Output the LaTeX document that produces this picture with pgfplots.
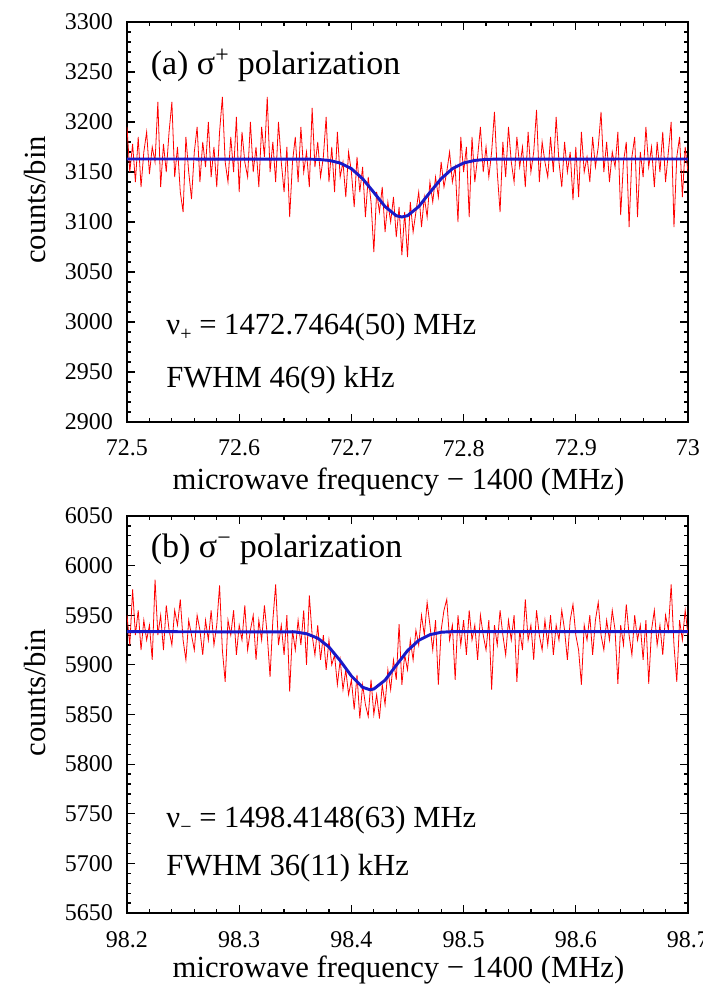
\documentclass[border=0pt]{standalone}
\usepackage{fontspec}
\setmainfont{Liberation Serif}
\usepackage{pgfplots}
\pgfplotsset{compat=1.18}
\definecolor{fitblue}{RGB}{25,25,200}
\definecolor{datred}{RGB}{255,0,0}
\pgfplotsset{
  panel/.style={
    scale only axis,
    width=420.75pt,
    axis line style={line width=1.1pt},
    tick align=inside,
    major tick length=6pt,
    minor tick length=3pt,
    every tick/.style={black, line width=0.9pt},
    minor x tick num=4,
    minor y tick num=4,
    /pgf/number format/assume math mode=true,
    /pgf/number format/1000 sep={},
    tick label style={font=\fontsize{18}{20}\selectfont},
    xticklabel style={yshift=-10pt},
    yticklabel style={xshift=-7pt},
    xlabel style={font=\fontsize{23}{26}\selectfont, anchor=center},
    ylabel style={font=\fontsize{23}{26}\selectfont, anchor=center, at={(axis description cs:-0.164,0.555)}},
    clip mode=individual,
    anchor=south west,
  }
}
\begin{document}
\begin{tikzpicture}
\useasboundingbox (0,0) rectangle (527.25pt,742.5pt);
% ---------------- top panel ----------------
\begin{axis}[panel,
  at={(95.25pt,426pt)}, height=300pt,
  xmin=72.5, xmax=73, ymin=2900, ymax=3300,
  xtick={72.5,72.6,72.7,72.8,72.9,73},
  xticklabels={72.5,72.6,72.7,72.8,72.9,73},
  ytick={2900,2950,3000,3050,3100,3150,3200,3250,3300},
  xlabel={microwave frequency − 1400 (MHz)},
  xlabel style={at={(axis description cs:0.484,-0.15)}},
  ylabel={counts/bin},
]
\addplot[datred, line width=0.6pt, no markers] table[row sep=\\, x expr=72.5+\coordindex*0.0025, y=y] {
y\\
3195\\3150\\3178\\3140\\3185\\3135\\3170\\3190\\3148\\3175\\
3160\\3220\\3135\\3178\\3150\\3190\\3220\\3145\\3175\\3130\\
3110\\3185\\3150\\3123\\3170\\3195\\3140\\3180\\3155\\3200\\
3145\\3175\\3135\\3190\\3225\\3160\\3140\\3185\\3150\\3205\\
3130\\3190\\3160\\3145\\3200\\3150\\3175\\3135\\3195\\3165\\
3225\\3150\\3180\\3140\\3200\\3160\\3130\\3175\\3105\\3160\\
3185\\3140\\3195\\3150\\3170\\3135\\3214\\3155\\3180\\3145\\
3165\\3205\\3140\\3175\\3130\\3190\\3145\\3160\\3125\\3170\\
3150\\3115\\3165\\3130\\3155\\3105\\3145\\3120\\3070\\3130\\
3110\\3135\\3090\\3120\\3100\\3125\\3085\\3115\\3067\\3110\\
3065\\3120\\3090\\3110\\3130\\3095\\3125\\3105\\3140\\3120\\
3145\\3125\\3160\\3135\\3150\\3170\\3140\\3155\\3100\\3185\\
3150\\3175\\3105\\3185\\3140\\3165\\3195\\3150\\3175\\3145\\
3170\\3210\\3150\\3110\\3180\\3145\\3195\\3160\\3140\\3185\\
3155\\3175\\3135\\3190\\3150\\3170\\3212\\3140\\3180\\3160\\
3145\\3185\\3150\\3205\\3160\\3135\\3180\\3150\\3170\\3122\\
3175\\3125\\3190\\3150\\3165\\3140\\3185\\3155\\3175\\3210\\
3150\\3180\\3140\\3170\\3155\\3190\\3107\\3160\\3180\\3095\\
3165\\3185\\3105\\3170\\3145\\3195\\3155\\3175\\3135\\3180\\
3150\\3190\\3140\\3170\\3200\\3095\\3165\\3185\\3125\\3175\\3150\\
};
\addplot[fitblue, line width=2.2pt, no markers] coordinates {
(72.5,3163) (72.66,3162.9) (72.67,3162.6) (72.68,3161.6) (72.69,3159.0)
(72.70,3153.3) (72.71,3143.3) (72.72,3129.6) (72.73,3115.4) (72.74,3106.3)
(72.745,3105) (72.75,3106.3) (72.76,3115.4) (72.77,3129.6) (72.78,3143.3)
(72.79,3153.3) (72.80,3159.0) (72.81,3161.6) (72.82,3162.6) (72.83,3162.9) (73,3163)
};
\node[anchor=west, font=\fontsize{25.5}{28}\selectfont] at (axis cs:72.517,3257) {(a) σ\textsuperscript{+} polarization};
\node[anchor=west, font=\fontsize{23}{26}\selectfont] at (axis cs:72.531,2995) {ν\raisebox{-0.45ex}{\fontsize{15}{16}\selectfont +} = 1472.7464(50) MHz};
\node[anchor=west, font=\fontsize{23}{26}\selectfont] at (axis cs:72.531,2942) {FWHM 46(9) kHz};
\end{axis}
% ---------------- bottom panel ----------------
\begin{axis}[panel,
  at={(95.25pt,57.75pt)}, height=297.75pt,
  xmin=98.2, xmax=98.7, ymin=5650, ymax=6050,
  xtick={98.2,98.3,98.4,98.5,98.6,98.7},
  xticklabels={98.2,98.3,98.4,98.5,98.6,98.7},
  ytick={5650,5700,5750,5800,5850,5900,5950,6000,6050},
  xlabel={microwave frequency − 1400 (MHz)},
  xlabel style={at={(axis description cs:0.484,-0.1436)}},
  ylabel={counts/bin},
]
\addplot[datred, line width=0.6pt, no markers] table[row sep=\\, x expr=98.2+\coordindex*0.0025, y=y] {
y\\
5950\\5920\\5976\\5930\\5955\\5915\\5945\\5925\\5940\\5905\\
5986\\5930\\5950\\5915\\5960\\5935\\5920\\5955\\5940\\5966\\
5925\\5905\\5945\\5930\\5915\\5950\\5935\\5910\\5945\\5925\\
5955\\5920\\5940\\5980\\5915\\5883\\5945\\5930\\5955\\5910\\
5940\\5925\\5960\\5915\\5935\\5950\\5905\\5945\\5925\\5960\\
5930\\5888\\5945\\5981\\5920\\5940\\5910\\5950\\5873\\5935\\
5915\\5945\\5920\\5955\\5900\\5970\\5930\\5910\\5940\\5905\\
5930\\5895\\5925\\5900\\5910\\5880\\5905\\5875\\5895\\5870\\
5885\\5855\\5890\\5846\\5880\\5860\\5848\\5885\\5850\\5870\\
5846\\5880\\5860\\5895\\5875\\5905\\5885\\5941\\5880\\5910\\
5895\\5925\\5905\\5935\\5920\\5950\\5930\\5963\\5940\\5915\\
5945\\5880\\5935\\5955\\5966\\5925\\5940\\5885\\5950\\5920\\
5945\\5910\\5955\\5925\\5940\\5905\\5950\\5930\\5915\\5945\\
5875\\5940\\5920\\5955\\5930\\5910\\5945\\5925\\5950\\5883\\
5935\\5915\\5966\\5925\\5940\\5905\\5955\\5930\\5915\\5945\\
5920\\5950\\5910\\5940\\5925\\5955\\5935\\5905\\5945\\5961\\
5930\\5915\\5880\\5940\\5925\\5950\\5910\\5945\\5963\\5930\\
5915\\5945\\5925\\5955\\5935\\5881\\5940\\5920\\5961\\5930\\
5910\\5950\\5925\\5940\\5905\\5945\\5881\\5935\\5955\\5920\\
5940\\5910\\5950\\5935\\5981\\5920\\5883\\5945\\5925\\5955\\5930\\
};
\addplot[fitblue, line width=2.2pt, no markers] coordinates {
(98.2,5933.5) (98.35,5933.2) (98.36,5931.4) (98.37,5926.9) (98.38,5918.0)
(98.39,5904.3) (98.40,5888.8) (98.41,5877.4) (98.4165,5875) (98.42,5875.7)
(98.43,5884.6) (98.44,5899.6) (98.45,5914.3) (98.46,5924.7) (98.47,5930.4)
(98.48,5932.9) (98.49,5933.5) (98.7,5933.5)
};
\node[anchor=west, font=\fontsize{25.5}{28}\selectfont] at (axis cs:98.217,6016) {(b) σ\textsuperscript{−} polarization};
\node[anchor=west, font=\fontsize{23}{26}\selectfont] at (axis cs:98.231,5744) {ν\raisebox{-0.45ex}{\fontsize{15}{16}\selectfont −} = 1498.4148(63) MHz};
\node[anchor=west, font=\fontsize{23}{26}\selectfont] at (axis cs:98.231,5695) {FWHM 36(11) kHz};
\end{axis}
\end{tikzpicture}
\end{document}
